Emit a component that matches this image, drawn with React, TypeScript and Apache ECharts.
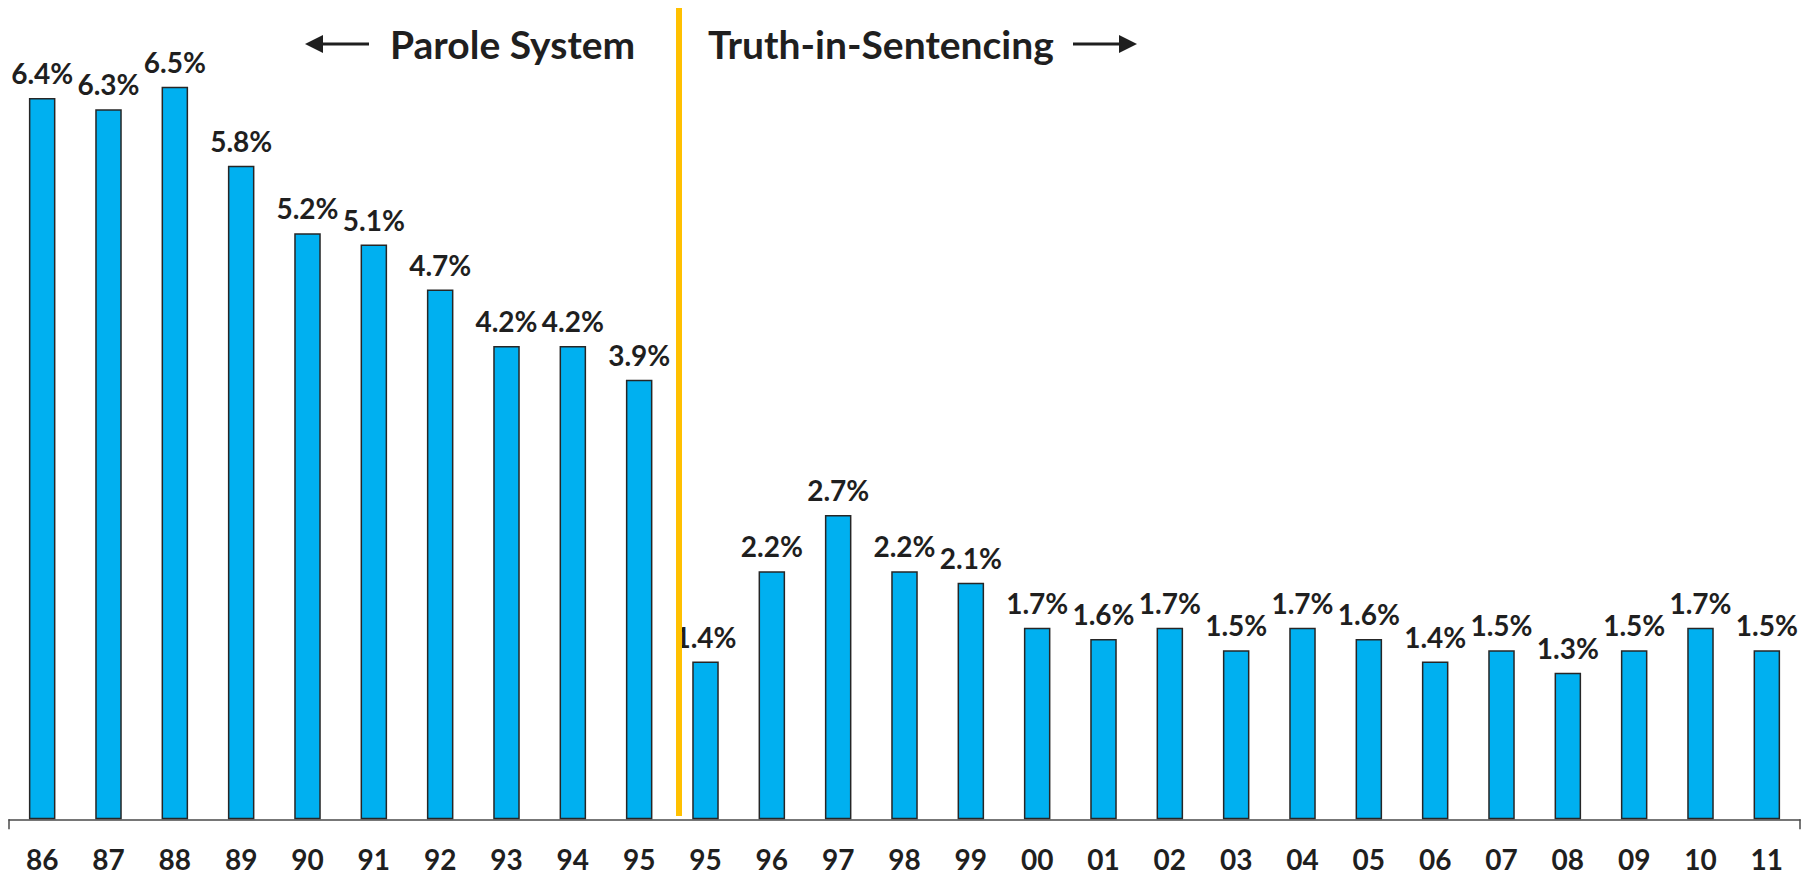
import React, { useEffect, useRef } from "react";
import * as echarts from "echarts";

const categories = ["86","87","88","89","90","91","92","93","94","95","95","96","97","98","99","00","01","02","03","04","05","06","07","08","09","10","11"];
const rates = [6.4,6.3,6.5,5.8,5.2,5.1,4.7,4.2,4.2,3.9,1.4,2.2,2.7,2.2,2.1,1.7,1.6,1.7,1.5,1.7,1.6,1.4,1.5,1.3,1.5,1.7,1.5];
const leftHeader = "Parole System";
const rightHeader = "Truth-in-Sentencing";

const FONT = "Lato, 'Noto Sans', sans-serif";
const INK = "#1f1f1f";

export default function App() {
  const ref = useRef<HTMLDivElement>(null);
  useEffect(() => {
    document.body.style.margin = "0";
    const chart = echarts.init(ref.current!, null, { renderer: "svg" });
    chart.setOption({
      animation: false,
      backgroundColor: "#ffffff",
      grid: { left: 9, right: 14, top: 30.4, bottom: 56.7, containLabel: false },
      xAxis: {
        type: "category",
        data: categories,
        boundaryGap: true,
        axisLine: { show: true, lineStyle: { color: "#4a4a4a", width: 1.5 } },
        axisTick: {
          show: true,
          length: 10,
          interval: (index: number) => index === 0,
          lineStyle: { color: "#4a4a4a", width: 1.5 },
        },
        axisLabel: {
          interval: 0,
          margin: 28,
          lineHeight: 24,
          color: INK,
          fontFamily: FONT,
          fontWeight: "bold",
          fontSize: 28,
        },
      },
      yAxis: { type: "value", min: 0, max: 7, show: false, splitLine: { show: false } },
      series: [
        {
          type: "bar",
          data: rates,
          barWidth: "40%",
          itemStyle: { color: "#00B0F0", borderColor: "#262626", borderWidth: 1.5 },
          label: {
            show: true,
            position: "top",
            distance: 11,
            formatter: (p: any) => p.value.toFixed(1) + "%",
            color: INK,
            fontFamily: FONT,
            fontWeight: "bold",
            fontSize: 28,
          },
        },
      ],
      graphic: [
        { type: "line", z: 100, shape: { x1: 679, y1: 8, x2: 679, y2: 816 }, style: { stroke: "#FFC000", lineWidth: 6 } },
        { type: "line", shape: { x1: 318, y1: 44, x2: 369, y2: 44 }, style: { stroke: INK, lineWidth: 3 } },
        { type: "polygon", shape: { points: [[305, 44], [323, 35], [323, 53]] }, style: { fill: INK } },
        { type: "line", shape: { x1: 1073, y1: 44, x2: 1124, y2: 44 }, style: { stroke: INK, lineWidth: 3 } },
        { type: "polygon", shape: { points: [[1137, 44], [1119, 35], [1119, 53]] }, style: { fill: INK } },
        {
          type: "text",
          x: 390,
          y: 44,
          style: { text: leftHeader, fill: INK, font: `bold 39px ${FONT}`, verticalAlign: "middle", align: "left" },
        },
        {
          type: "text",
          x: 708,
          y: 44,
          style: { text: rightHeader, fill: INK, font: `bold 39px ${FONT}`, verticalAlign: "middle", align: "left" },
        },
      ],
    });
    return () => chart.dispose();
  }, []);
  return <div ref={ref} style={{ width: 1814, height: 876 }} />;
}
